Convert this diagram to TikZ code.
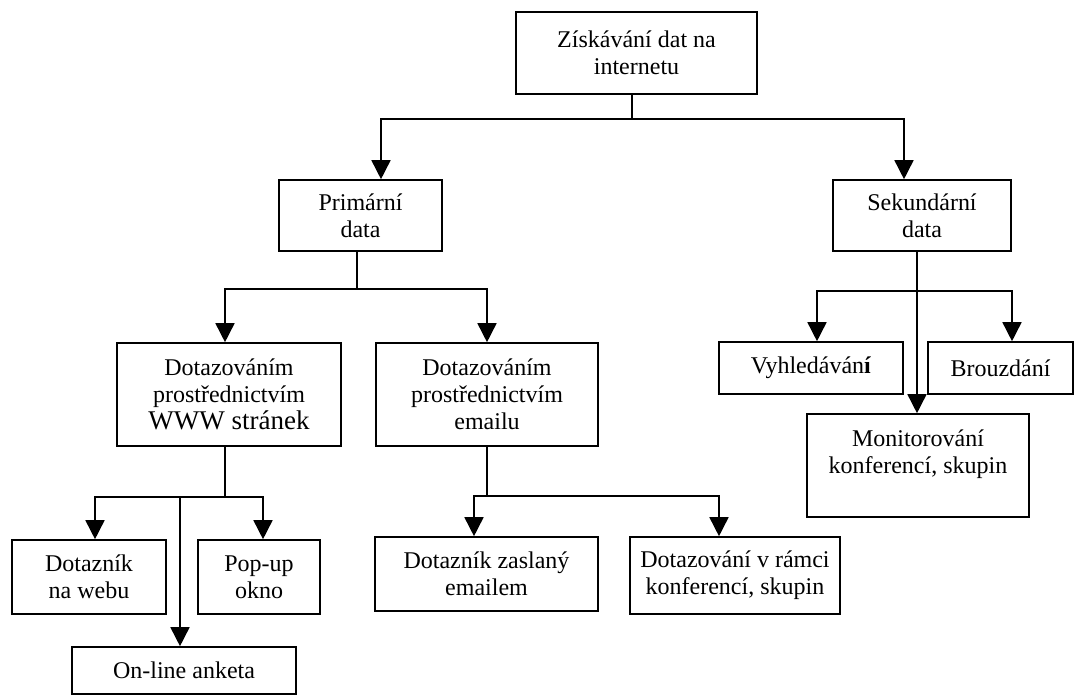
\documentclass[tikz,border=0pt]{standalone}
\usepackage{fontspec}
\setmainfont{Liberation Serif}
\usetikzlibrary{arrows.meta}
\begin{document}
\begin{tikzpicture}[x=1pt,y=-1pt,
  box/.style={draw, line width=1.6pt, inner sep=0pt, align=center,
    font=\fontsize{24}{27}\selectfont},
  conn/.style={line width=1.6pt},
  arr/.style={line width=1.6pt, -{Triangle[width=19pt,length=19pt]}}]
\useasboundingbox (0,0) rectangle (1077,695);
% nodes
\node[box, minimum width=241pt, minimum height=82pt] (top) at (636.5,53) {Získávání dat na\\internetu};
\node[box, minimum width=163pt, minimum height=71pt] (prim) at (360.5,215.5) {Primární\\data};
\node[box, minimum width=178pt, minimum height=71pt] (sek) at (922,215.5) {Sekundární\\data};
\node[box, minimum width=224pt, minimum height=103pt] (www) at (229,394.5) {Dotazováním\\prostřednictvím\\{\fontsize{27}{31}\selectfont WWW stránek}};
\node[box, minimum width=222pt, minimum height=103pt] (email) at (487,394.5) {Dotazováním\\prostřednictvím\\emailu};
\node[box, minimum width=184pt, minimum height=52pt] (vyhl) at (811,368) {Vyhledáván\textbf{í}};
\node[box, minimum width=145pt, minimum height=52pt] (brouz) at (1000.5,368) {Brouzdání};
\node[box, minimum width=222pt, minimum height=103pt] (monit) at (918,465.5) {Monitorování\\konferencí, skupin\\\mbox{}};
\node[box, minimum width=154pt, minimum height=74pt] (dweb) at (89,577) {Dotazník\\na webu};
\node[box, minimum width=122pt, minimum height=74pt] (popup) at (259,577) {Pop-up\\okno};
\node[box, minimum width=224pt, minimum height=47pt] (online) at (184,670.5) {On-line anketa};
\node[box, minimum width=223pt, minimum height=74pt] (dzasl) at (486.5,574) {Dotazník zaslaný\\emailem};
\node[box, minimum width=210pt, minimum height=77pt] (dramci) at (735,575.5) {Dotazování v rámci\\konferencí, skupin};
% junctions
\coordinate (j0) at (632,119);
\coordinate (j1) at (357,289);
\coordinate (j2) at (917,291);
\coordinate (j3) at (225,497);
\coordinate (j4) at (180,497);
\coordinate (j5) at (487,496);
% connectors
\draw[conn] (top.south -| j0) -- (j0);
\draw[arr] (j0) -| ([xshift=20.5pt]prim.north);
\draw[arr] (j0) -| ([xshift=-18pt]sek.north);
\draw[conn] (prim.south -| j1) -- (j1);
\draw[arr] (j1) -| ([xshift=-4pt]www.north);
\draw[arr] (j1) -| (email.north);
\draw[arr] (sek.south -| j2) -- (monit.north -| j2);
\draw[arr] (j2) -| ([xshift=6pt]vyhl.north);
\draw[arr] (j2) -| ([xshift=11.5pt]brouz.north);
\draw[conn] (www.south -| j3) -- (j3);
\draw[arr] (j3) -| ([xshift=6pt]dweb.north);
\draw[arr] (j3) -| ([xshift=4pt]popup.north);
\draw[arr] (j4) -- (online.north -| j4);
\draw[conn] (email.south -| j5) -- (j5);
\draw[arr] (j5) -| ([xshift=-12.5pt]dzasl.north);
\draw[arr] (j5) -| ([xshift=-16pt]dramci.north);
\end{tikzpicture}
\end{document}
